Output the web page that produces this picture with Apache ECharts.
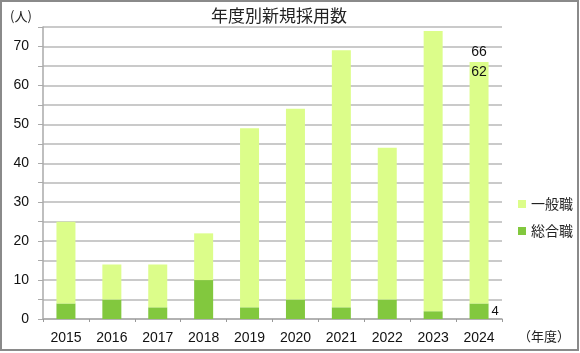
<!DOCTYPE html>
<html>
<head>
<meta charset="utf-8">
<script src="https://cdn.jsdelivr.net/npm/echarts@6/dist/echarts.min.js"></script>
<style>
  html, body { margin: 0; padding: 0; background: #fff; }
  #chart { width: 580px; height: 353px; }
</style>
</head>
<body>
<div id="chart"></div>
<script>
// 年度
var years = ['2015', '2016', '2017', '2018', '2019', '2020', '2021', '2022', '2023', '2024']
// 総合職
var sougou = [4, 5, 3, 10, 3, 5, 3, 5, 2, 4]
// 一般職
var ippan = [21, 9, 11, 12, 46, 49, 66, 39, 72, 62]
var yTicks = [0, 10, 20, 30, 40, 50, 60, 70]
var lastIdx = years.length - 1

var font = '"Liberation Sans", Arial, "Noto Sans CJK JP", sans-serif'
var jpFont = '"Noto Sans CJK JP", sans-serif'

var chart = echarts.init(document.getElementById('chart'))

var option = {
  animation: false,
  title: {
    text: '年度別新規採用数',
    left: 206,
    top: 2,
    textStyle: { fontFamily: jpFont, fontSize: 17, fontWeight: 'normal', color: '#222' }
  },
  legend: {
    data: ['一般職', '総合職'],
    orient: 'vertical',
    left: 513,
    top: 192,
    icon: 'rect',
    itemWidth: 8,
    itemHeight: 8,
    itemGap: 13,
    textStyle: { fontFamily: jpFont, fontSize: 14, color: '#222' }
  },
  grid: {
    left: 43,
    right: 78,
    top: 27,
    bottom: 34,
    containLabel: false
  },
  xAxis: {
    type: 'category',
    data: years,
    axisLine: { lineStyle: { color: '#aaa', width: 1.5 } },
    axisTick: { show: true, length: 3, lineStyle: { color: '#999' } },
    axisLabel: { fontFamily: font, fontSize: 14, color: '#111', margin: 12 }
  },
  yAxis: {
    type: 'value',
    min: 0,
    max: 75,
    interval: 5,
    axisLine: { show: true, lineStyle: { color: '#aaa', width: 1.5 } },
    axisTick: { show: true, length: 5, lineStyle: { color: '#aaa' } },
    axisLabel: {
      fontFamily: font,
      fontSize: 14,
      color: '#111',
      margin: 14,
      formatter: function (v) {
        return yTicks.indexOf(v) >= 0 ? String(v) : ''
      }
    },
    splitLine: { show: true, lineStyle: { color: '#b8b8b8', width: 1.5 } }
  },
  series: [{
    name: '総合職',
    type: 'bar',
    stack: 'all',
    barWidth: 19,
    itemStyle: { color: '#82c83e' },
    data: sougou.map(function (v, i) {
      return i === lastIdx ? {
        value: v,
        label: { show: true, position: 'right', distance: 3, fontFamily: font, fontSize: 13, color: '#111' }
      } : v
    })
  }, {
    name: '一般職',
    type: 'bar',
    stack: 'all',
    barWidth: 19,
    itemStyle: { color: '#dcfd8a' },
    data: ippan.map(function (v, i) {
      return i === lastIdx ? {
        value: v,
        label: { show: true, position: 'insideTop', distance: 3, fontFamily: font, fontSize: 14, color: '#111' }
      } : v
    })
  }, {
    name: '合計',
    type: 'bar',
    stack: 'all',
    barWidth: 19,
    silent: true,
    itemStyle: { color: 'transparent' },
    label: {
      show: true,
      position: 'top',
      distance: 3,
      fontFamily: font,
      fontSize: 14,
      color: '#111',
      formatter: function (p) {
        return p.dataIndex === lastIdx ? String(sougou[lastIdx] + ippan[lastIdx]) : ''
      }
    },
    data: years.map(function () { return 0 })
  }],
  graphic: [{
    type: 'rect',
    shape: { x: 1, y: 1, width: 577, height: 349 },
    style: { fill: 'none', stroke: '#8a8a8a', lineWidth: 2 },
    silent: true
  }, {
    type: 'text',
    left: 10,
    top: 10,
    style: { text: '(人)', font: '13px ' + jpFont, fill: '#222' }
  }, {
    type: 'text',
    left: 518,
    top: 330,
    style: { text: '（年度）', font: '13px ' + jpFont, fill: '#222' }
  }]
}

chart.setOption(option)
window.addEventListener('resize', function () {
  chart.resize()
})
</script>
</body>
</html>
